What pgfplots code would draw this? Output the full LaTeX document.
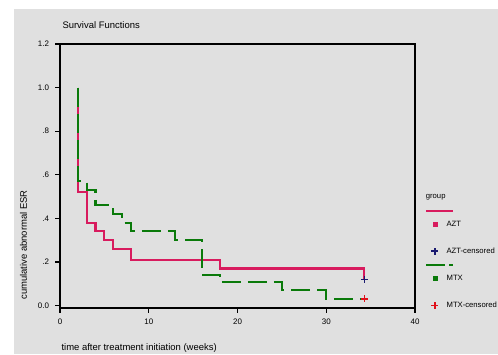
\documentclass[border=0pt]{standalone}
\usepackage{pgfplots}
\pgfplotsset{compat=1.18}
\usepackage{fontspec}
\setmainfont{Liberation Sans}
\definecolor{bg}{HTML}{E0E0E0}
\definecolor{azt}{HTML}{D81B5E}
\definecolor{mtx}{HTML}{0A7A0A}
\definecolor{navyc}{HTML}{1A1A70}
\definecolor{redc}{HTML}{E0101A}
\begin{document}
\begin{tikzpicture}[x=1bp,y=1bp]
\path[use as bounding box] (0,0) rectangle (498,354);
\fill[white] (0,0) rectangle (498,354);
\fill[bg] (14,0) rectangle (498,345);
\begin{axis}[at={(60bp,46.3bp)}, anchor=south west, scale only axis,
  width=355bp, height=263.7bp,
  xmin=0, xmax=40, ymin=-0.01, ymax=1.2,
  xtick={0,10,20,30,40}, xticklabels={0,10,20,30,40},
  ytick={0,0.2,0.4,0.6,0.8,1.0,1.2}, yticklabels={0.0,.2,.4,.6,.8,1.0,1.2},
  tick align=outside, tick pos=left, major tick length=5bp,
  tick style={black, line width=1.2bp},
  axis line style={black, line width=1.6bp},
  ticklabel style={font=\fontsize{8}{9}\selectfont},
  yticklabel style={xshift=-2.5bp},
  xticklabel style={yshift=-3bp},
  clip=false,
  legend cell align=left,
  legend style={at={(1.031,0.38)}, anchor=north west, draw=none, fill=none,
    inner sep=0pt, row sep=6.1bp, column sep=4bp,
    nodes={inner sep=0pt, text height=5.5bp, text depth=1.5bp, font=\fontsize{7.7}{8}\selectfont}},
]
\addplot[azt, line width=2.1bp, const plot, forget plot] coordinates {
 (2,1.0) (2,0.52) (3,0.38) (4,0.34) (5,0.30) (6,0.26) (8,0.21) (18,0.17) (34.3,0.12)};
\addplot[mtx, line width=2.1bp, const plot, dash pattern=on 19bp off 7bp, forget plot] coordinates {
 (2,1.0) (2,0.57) (3,0.53) (4,0.46) (6,0.42) (7,0.38) (8,0.34) (13,0.30) (16,0.14) (18,0.11) (25,0.07) (30,0.03) (34.3,0.03)};
\addplot[only marks, mark=+, mark size=3.5bp, navyc, mark options={line width=1.7bp}, forget plot] coordinates {(34.3,0.12)};
\addplot[only marks, mark=+, mark size=3.5bp, redc, mark options={line width=1.7bp}, forget plot] coordinates {(34.3,0.03)};

\addlegendimage{legend image code/.code={\draw[overlay,azt,line width=2bp] (0bp,0bp)--(27bp,0bp); \path (0bp,0bp) (16bp,0bp);}}
\addlegendentry{}
\addlegendimage{legend image code/.code={\fill[azt] (7bp,-1.8bp) rectangle (10.6bp,1.8bp); \path (0bp,0bp) (16bp,0bp);}}
\addlegendentry{AZT}
\addlegendimage{legend image code/.code={\path (0bp,0bp) (16bp,0bp);}}
\addlegendentry{}
\addlegendimage{legend image code/.code={\draw[navyc,line width=1.7bp] (5bp,0bp)--(12bp,0bp) (8.5bp,-3.5bp)--(8.5bp,3.5bp); \path (0bp,0bp) (16bp,0bp);}}
\addlegendentry{AZT-censored}
\addlegendimage{legend image code/.code={\draw[overlay,mtx,line width=2bp] (0bp,0bp)--(19bp,0bp) (23bp,0bp)--(27bp,0bp); \path (0bp,0bp) (16bp,0bp);}}
\addlegendentry{}
\addlegendimage{legend image code/.code={\fill[mtx] (7bp,-1.8bp) rectangle (10.6bp,1.8bp); \path (0bp,0bp) (16bp,0bp);}}
\addlegendentry{MTX}
\addlegendimage{legend image code/.code={\path (0bp,0bp) (16bp,0bp);}}
\addlegendentry{}
\addlegendimage{legend image code/.code={\draw[redc,line width=1.7bp] (5bp,0bp)--(12bp,0bp) (8.5bp,-3.5bp)--(8.5bp,3.5bp); \path (0bp,0bp) (16bp,0bp);}}
\addlegendentry{MTX-censored}
\end{axis}
\node[anchor=base west, font=\fontsize{9.5}{11}\selectfont] at (59,325.5) {Survival Functions};
\node[anchor=base west, font=\fontsize{9.5}{11}\selectfont] at (58,3.5) {time after treatment initiation (weeks)};
\node[rotate=90, font=\fontsize{9.5}{11}\selectfont] at (23.5,109) {cumulative abnormal ESR};
\node[anchor=west, inner sep=0pt, font=\fontsize{7.7}{8}\selectfont] at (425.7,157) {group};
\end{tikzpicture}
\end{document}
